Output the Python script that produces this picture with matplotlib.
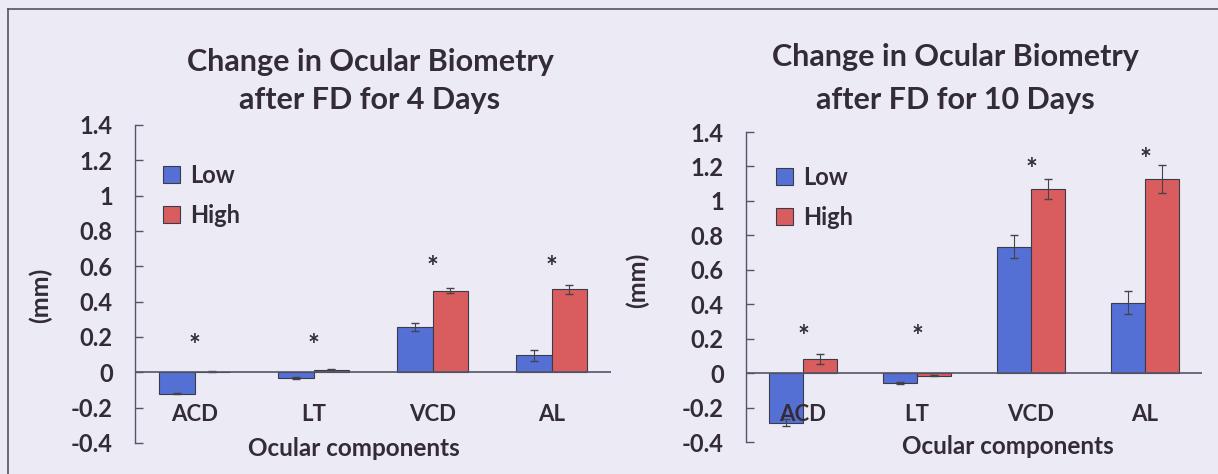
import numpy as np
import matplotlib
matplotlib.use('Agg')
import matplotlib.pyplot as plt
from matplotlib.lines import Line2D

plt.rcParams['font.family'] = ['Lato', 'DejaVu Sans']
plt.rcParams['font.weight'] = 'bold'

components = ['ACD', 'LT', 'VCD', 'AL']
series = ['Low', 'High']

# 4 days of form deprivation
low_4d = [-0.12, -0.033, 0.256, 0.096]
low_4d_err = [0.003, 0.005, 0.022, 0.03]
high_4d = [0.003, 0.015, 0.463, 0.469]
high_4d_err = [0.002, 0.002, 0.013, 0.027]
stars_4d = [0.15, 0.15, 0.59, 0.59]

# 10 days of form deprivation
low_10d = [-0.288, -0.058, 0.735, 0.409]
low_10d_err = [0.02, 0.006, 0.065, 0.066]
high_10d = [0.082, -0.015, 1.07, 1.125]
high_10d_err = [0.03, 0.002, 0.058, 0.082]
stars_10d = [0.21, 0.21, 1.18, 1.24]

BG = '#ECEAF5'
BLUE = '#5470D4'
RED = '#D95C5E'
TXT = '#332B36'


def draw_panel(ax, low, low_err, high, high_err, stars, xlabel_x, leg_xy):
    x = np.arange(len(components))
    w = 0.295
    ax.bar(x - w / 2, low, w, color=BLUE, edgecolor='#3A3A4A', linewidth=0.8,
           label=series[0], zorder=2)
    ax.bar(x + w / 2, high, w, color=RED, edgecolor='#3A3A4A', linewidth=0.8,
           label=series[1], zorder=2)
    ax.errorbar(x - w / 2, low, yerr=low_err, fmt='none', ecolor='#444444',
                elinewidth=0.8, capsize=3, zorder=3)
    ax.errorbar(x + w / 2, high, yerr=high_err, fmt='none', ecolor='#444444',
                elinewidth=0.8, capsize=3, zorder=3)
    ax.axhline(0, color='#555566', linewidth=1.2, zorder=4)
    for xi, s in zip(x, stars):
        ax.text(xi, s, '*', ha='center', va='center', fontsize=20,
                fontweight='bold', color=TXT)
    for xi, name in zip(x, components):
        ax.text(xi, -0.24, name, ha='center', va='center', fontsize=16,
                fontweight='bold', color=TXT, zorder=5)
    ax.text(xlabel_x, -0.016, 'Ocular components', transform=ax.transAxes,
            ha='center', va='center', fontsize=17.5, fontweight='bold', color=TXT)

    ax.set_xlim(-0.5, len(components) - 0.5)
    ax.set_ylim(-0.4, 1.4)
    ax.set_yticks(np.arange(-0.4, 1.41, 0.2))
    ax.set_yticklabels(['-0.4', '-0.2', '0', '0.2', '0.4', '0.6', '0.8',
                        '1', '1.2', '1.4'])
    ax.set_xticks([])
    for side in ['top', 'right', 'bottom']:
        ax.spines[side].set_visible(False)
    ax.spines['left'].set_color('#555566')
    ax.spines['left'].set_linewidth(1.0)
    ax.tick_params(axis='y', direction='in', length=6, width=1.0,
                   colors='#555566', labelcolor=TXT, labelsize=17, pad=16)
    for t in ax.get_yticklabels():
        t.set_fontweight('bold')
    ax.set_facecolor('none')
    leg = ax.legend(loc='upper left', bbox_to_anchor=leg_xy,
                    frameon=False, fontsize=17, handlelength=0.7,
                    handleheight=0.7, handletextpad=0.45, labelspacing=0.72,
                    borderpad=0)
    for t in leg.get_texts():
        t.set_fontweight('bold')
        t.set_color(TXT)


fig = plt.figure(figsize=(12.18, 4.74), dpi=100, facecolor=BG)

ax1 = fig.add_axes([135 / 1218, 1 - 443 / 474, 476 / 1218, 318 / 474])
draw_panel(ax1, low_4d, low_4d_err, high_4d, high_4d_err, stars_4d, 0.46,
           (0.035, 0.915))

ax2 = fig.add_axes([746 / 1218, 1 - 442 / 474, 456 / 1218, 310 / 474])
draw_panel(ax2, low_10d, low_10d_err, high_10d, high_10d_err, stars_10d, 0.575,
           (0.04, 0.93))

fig.text(370 / 1218, 1 - 62 / 474, 'Change in Ocular Biometry', ha='center',
         va='center', fontsize=22, fontweight='bold', color=TXT)
fig.text(370 / 1218, 1 - 100 / 474, 'after FD for 4 Days', ha='center',
         va='center', fontsize=22, fontweight='bold', color=TXT)
fig.text(955 / 1218, 1 - 57 / 474, 'Change in Ocular Biometry', ha='center',
         va='center', fontsize=22, fontweight='bold', color=TXT)
fig.text(955 / 1218, 1 - 100 / 474, 'after FD for 10 Days', ha='center',
         va='center', fontsize=22, fontweight='bold', color=TXT)

fig.text(40 / 1218, 1 - 295 / 474, '(mm)', rotation=90, ha='center',
         va='center', fontsize=18, fontweight='bold', color=TXT)
fig.text(637 / 1218, 1 - 280 / 474, '(mm)', rotation=90, ha='center',
         va='center', fontsize=18, fontweight='bold', color=TXT)

# scanned page frame
fig.add_artist(Line2D([8 / 1218, 1.0], [1 - 9 / 474, 1 - 9 / 474],
                      color='#555555', linewidth=1.2))
fig.add_artist(Line2D([8 / 1218, 8 / 1218], [0.0, 1 - 9 / 474],
                      color='#555555', linewidth=1.2))

fig.savefig('out.png', dpi=100, facecolor=BG)
